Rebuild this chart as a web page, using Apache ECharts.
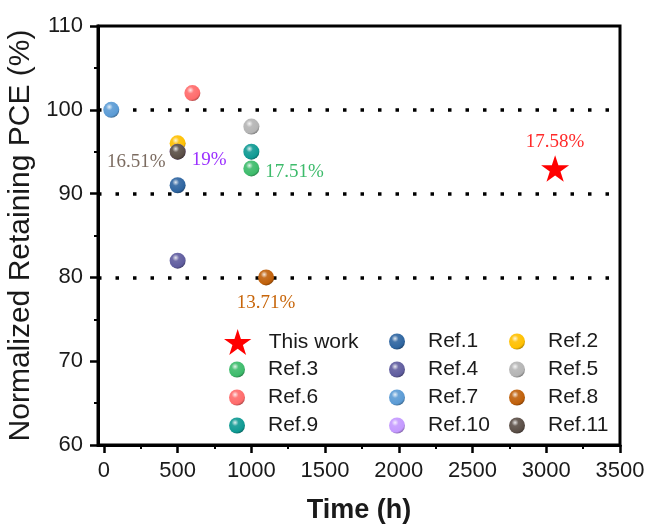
<!DOCTYPE html>
<html>
<head>
<meta charset="utf-8">
<script src="https://cdn.jsdelivr.net/npm/echarts@6/dist/echarts.min.js"></script>
<style>html,body{margin:0;padding:0;background:#fff;}#c{width:648px;height:527px;}</style>
</head>
<body>
<div id="c"></div>
<script>
// ---- data ----
const seriesNames = ['This work','Ref.1','Ref.2','Ref.3','Ref.4','Ref.5','Ref.6','Ref.7','Ref.8','Ref.9','Ref.10','Ref.11'];
const timeH = [3060, 500, 500, 1000, 500, 1000, 600, 50, 1100, 1000, 500, 500];
const retainPCE = [93, 91, 96, 93, 82, 98, 102, 100, 80, 95, 95, 95];
const pceLabels = ['17.58%', '', '', '17.51%', '', '', '', '', '13.71%', '', '19%', '16.51%'];
const xTicks = [0, 500, 1000, 1500, 2000, 2500, 3000, 3500];
const xMinorTicks = [250, 750, 1250, 1750, 2250, 2750, 3250];
const refLines = [100, 90, 80];

// ---- styles ----
const colors = ['#FF0000','#2E65A0','#FFC000','#3DBB6B','#5F5C9E','#B4B4B4','#FF6B6B','#5B9BD5','#C0600A','#0F9A93','#C499FF','#5A4E46'];
const labelColors = ['#FF2A2A','','','#3DBB6B','','','','','#C8660A','','#9B30FF','#7B6B60'];
const labelPos = [
  {position:'top', distance:4},
  null,null,
  {position:'right', distance:6, offset:[0,4]},
  null,null,null,null,
  {position:'bottom', distance:8},
  null,
  {position:'right', distance:6, offset:[0,8]},
  {position:'left', distance:4, offset:[0,10]}
];
function mix(hex, t, target){
  const h = hex.replace('#','');
  const r = parseInt(h.substr(0,2),16), g = parseInt(h.substr(2,2),16), b = parseInt(h.substr(4,2),16);
  const T = target === 'w' ? 255 : 0;
  const f = v => Math.round(v + (T - v) * t);
  return 'rgb(' + f(r) + ',' + f(g) + ',' + f(b) + ')';
}
function ball(hex){
  return {type:'radial', x:0.38, y:0.32, r:0.72, colorStops:[
    {offset:0, color: mix(hex,0.85,'w')},
    {offset:0.3, color: mix(hex,0.1,'w')},
    {offset:0.8, color: hex},
    {offset:1, color: mix(hex,0.35,'b')}
  ]};
}
const starPath = 'path://M50,0 L61.2,34.5 L97.6,34.5 L68.2,55.9 L79.4,90.5 L50,69.1 L20.6,90.5 L31.8,55.9 L2.4,34.5 L38.8,34.5 Z';

const series = seriesNames.map((name, i) => {
  const s = {
    name: name,
    type: 'scatter',
    z: 3 + i,
    symbol: i === 0 ? starPath : 'circle',
    symbolSize: i === 0 ? 28 : 16,
    symbolKeepAspect: true,
    itemStyle: {color: i === 0 ? colors[0] : ball(colors[i]), opacity: 1},
    data: [[timeH[i], retainPCE[i]]],
    emphasis: {disabled: true}
  };
  if (pceLabels[i]) {
    s.label = Object.assign({
      show: true,
      formatter: pceLabels[i],
      color: labelColors[i],
      fontFamily: 'Liberation Serif, Times New Roman, serif',
      fontSize: 19
    }, labelPos[i]);
  }
  if (i === 0) {
    s.markLine = {
      silent: true,
      symbol: ['none','none'],
      label: {show: false},
      lineStyle: {color:'#000', width:3.5, type:[3.5, 14], cap:'butt'},
      data: refLines.map(v => ({yAxis: v})),
      animation: false
    };
  }
  return s;
});

const legendText = {fontFamily:'Liberation Sans, Arial, sans-serif', fontSize:21, color:'#1a1a1a'};
const legendCommon = {orient:'vertical', itemWidth:52, itemHeight:16, itemGap:7, textStyle: legendText, selectedMode:false, padding:0};

const option = {
  animation: false,
  backgroundColor: '#fff',
  grid: {left: 98, right: 28, top: 26, bottom: 82, outerBoundsMode: 'none', containLabel: false,
         show: true, borderColor: '#000', borderWidth: 3, backgroundColor: 'transparent'},
  xAxis: [{
    type: 'value', min: -40, max: 3500, position: 'bottom',
    name: 'Time (h)', nameLocation: 'middle', nameGap: 52,
    nameTextStyle: {fontFamily:'Liberation Sans, Arial, sans-serif', fontSize:27, fontWeight:'bold', color:'#1a1a1a'},
    axisLine: {show: true, onZero: false, lineStyle: {color:'#000', width:3}},
    axisTick: {show: true, inside: false, length: 8, lineStyle:{color:'#000', width:2.5}, customValues: xTicks},
    axisLabel: {show: true, margin: 15, customValues: xTicks, formatter: v => String(v), fontFamily:'Liberation Sans, Arial, sans-serif', fontSize:22, color:'#1a1a1a'},
    splitLine: {show: false}
  },{
    type: 'value', min: -40, max: 3500, position: 'bottom',
    axisLine: {show: false, onZero: false},
    axisTick: {show: true, inside: false, length: 4, lineStyle:{color:'#000', width:2}, customValues: xMinorTicks},
    axisLabel: {show: false},
    splitLine: {show: false}
  }],
  yAxis: {
    type: 'value', min: 60, max: 110, interval: 10,
    name: 'Normalized Retaining PCE (%)', nameLocation: 'middle', nameGap: 60, nameRotate: 90,
    nameTextStyle: {fontFamily:'Liberation Sans, Arial, sans-serif', fontSize:30, color:'#1a1a1a'},
    axisLine: {show: true, onZero: false, lineStyle: {color:'#000', width:3}},
    axisTick: {show: true, inside: false, length: 8, lineStyle:{color:'#000', width:2.5}},
    minorTick: {show: true, splitNumber: 2, length: 4, lineStyle:{color:'#000', width:2}},
    axisLabel: {show: true, margin: 15, fontFamily:'Liberation Sans, Arial, sans-serif', fontSize:22, color:'#1a1a1a'},
    splitLine: {show: false}
  },
  legend: [
    Object.assign({}, legendCommon, {left: 224, top: 329, itemHeight: 26, data: ['This work']}),
    Object.assign({}, legendCommon, {left: 229, top: 359, data: ['Ref.3','Ref.6','Ref.9']}),
    Object.assign({}, legendCommon, {left: 389, top: 331, data: ['Ref.1','Ref.4','Ref.7','Ref.10']}),
    Object.assign({}, legendCommon, {left: 509, top: 331, data: ['Ref.2','Ref.5','Ref.8','Ref.11']})
  ],
  series: series
};
const chart = echarts.init(document.getElementById('c'), null, {renderer: 'canvas'});
chart.setOption(option);
</script>
</body>
</html>
